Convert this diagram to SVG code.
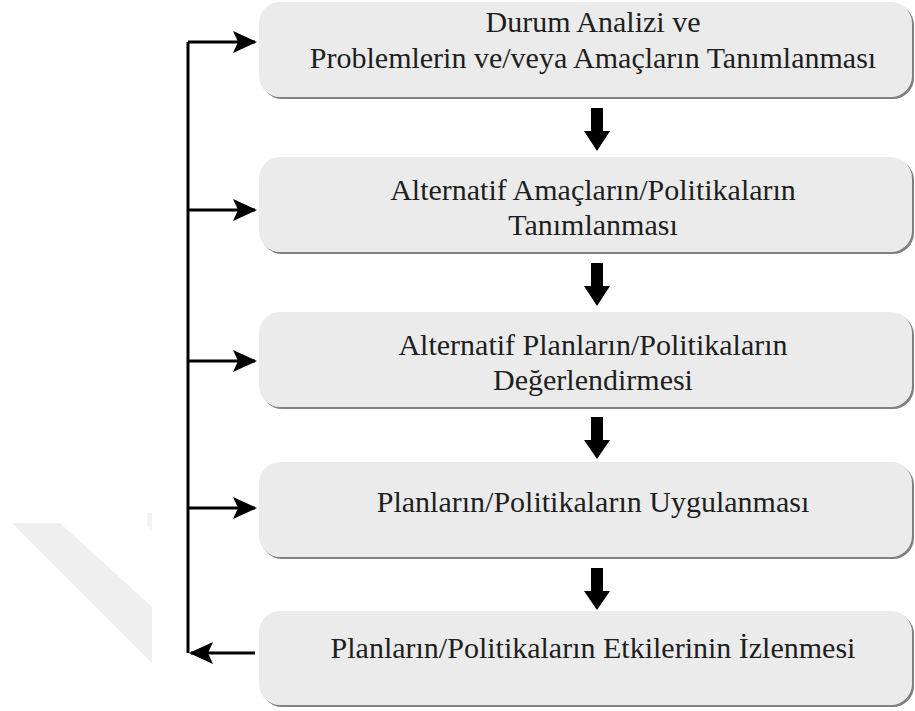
<svg xmlns="http://www.w3.org/2000/svg" width="915" height="711" viewBox="0 0 915 711">
  <defs>
    <style>
      .box { fill: #ebebeb; }
      .shadow { fill: #808080; }
      .label { font-family: "Liberation Serif", "Times New Roman", serif; font-size: 30px; fill: #1e1e1e; text-anchor: middle; }
      .link { stroke: #000; stroke-width: 3; fill: none; }
      .step { fill: #000; }
    </style>
    <marker id="head" viewBox="0 0 24 22" refX="22" refY="11" markerWidth="24" markerHeight="22" markerUnits="userSpaceOnUse" orient="auto">
      <path d="M0,0 L24,11 L0,22 L5,11 Z" fill="#000"/>
    </marker>
  </defs>

  <rect width="915" height="711" fill="#fff"/>

  <!-- faint background mark, lower left -->
  <polygon points="12,523 60,523 152,607 152,663" fill="#efefef"/>
  <polygon points="147,513 152,513 152,530 147,526" fill="#f3f3f3"/>

  <!-- process steps -->
  <g id="step1">
    <rect class="shadow" x="261" y="4" width="653" height="95" rx="21"/>
    <rect class="box" x="259" y="2" width="653" height="95" rx="21"/>
    <text class="label" x="593" y="32">Durum Analizi ve</text>
    <text class="label" x="593" y="68">Problemlerin ve/veya Amaçların Tanımlanması</text>
  </g>
  <g id="step2">
    <rect class="shadow" x="261" y="159" width="653" height="95" rx="21"/>
    <rect class="box" x="259" y="157" width="653" height="95" rx="21"/>
    <text class="label" x="593" y="200">Alternatif Amaçların/Politikaların</text>
    <text class="label" x="593" y="235">Tanımlanması</text>
  </g>
  <g id="step3">
    <rect class="shadow" x="261" y="314" width="653" height="95" rx="21"/>
    <rect class="box" x="259" y="312" width="653" height="95" rx="21"/>
    <text class="label" x="593" y="355">Alternatif Planların/Politikaların</text>
    <text class="label" x="593" y="390">Değerlendirmesi</text>
  </g>
  <g id="step4">
    <rect class="shadow" x="261" y="464" width="653" height="95" rx="21"/>
    <rect class="box" x="259" y="462" width="653" height="95" rx="21"/>
    <text class="label" x="593" y="512">Planların/Politikaların Uygulanması</text>
  </g>
  <g id="step5">
    <rect class="shadow" x="261" y="613" width="653" height="94" rx="21"/>
    <rect class="box" x="259" y="611" width="653" height="94" rx="21"/>
    <text class="label" x="593" y="658">Planların/Politikaların Etkilerinin İzlenmesi</text>
  </g>

  <!-- connectors -->
  <g id="connectors">
    <!-- downward step arrows -->
    <path class="step" d="M591,108 H603 V131 H610 L597,151 L584,131 H591 Z"/>
    <path class="step" d="M591,263 H603 V286 H610 L597,306 L584,286 H591 Z"/>
    <path class="step" d="M591,417 H603 V440 H610 L597,459 L584,440 H591 Z"/>
    <path class="step" d="M591,568 H603 V591 H610 L597,610 L584,591 H591 Z"/>

    <!-- feedback loop -->
    <path class="link" d="M188,42 V653"/>
    <path class="link" d="M255,653 H191" marker-end="url(#head)"/>
    <path class="link" d="M188,42 H255" marker-end="url(#head)"/>
    <path class="link" d="M188,210 H255" marker-end="url(#head)"/>
    <path class="link" d="M188,361 H255" marker-end="url(#head)"/>
    <path class="link" d="M188,508 H255" marker-end="url(#head)"/>
  </g>
</svg>
